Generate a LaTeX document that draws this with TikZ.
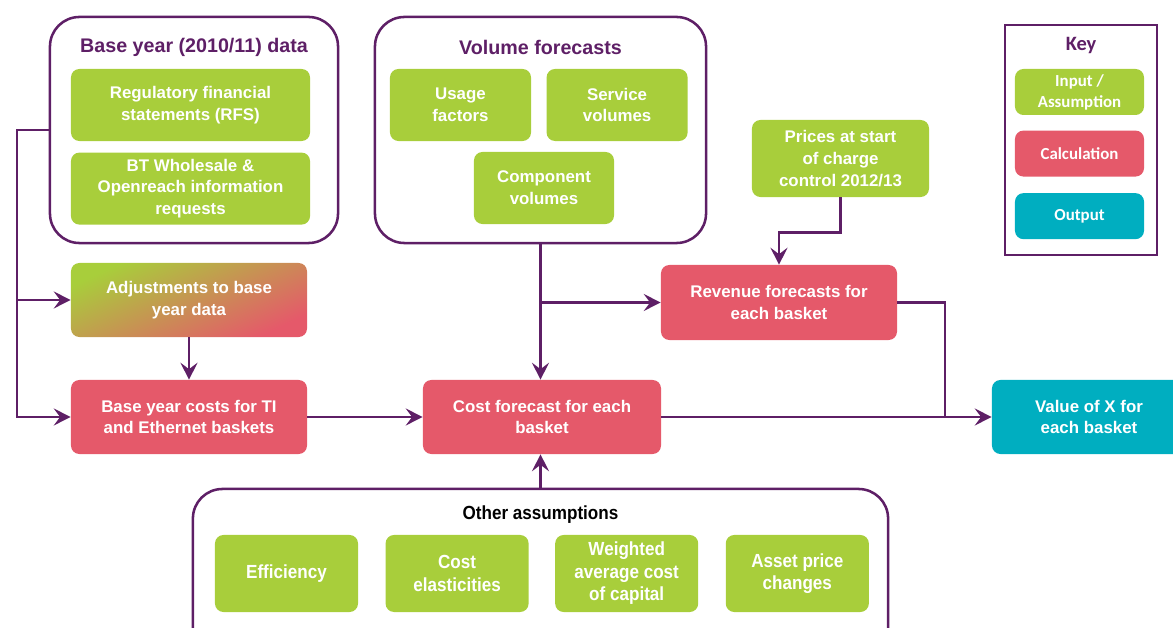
\documentclass[tikz,border=0pt]{standalone}
\usepackage{fontspec}
\setmainfont{Liberation Sans}
\newfontfamily\keyfont{Carlito}
\newfontfamily\narrowfont[FakeStretch=0.9]{Liberation Sans}
\usetikzlibrary{arrows.meta,positioning}
\definecolor{inpgreen}{HTML}{A8CE3B}
\definecolor{calcred}{HTML}{E5596A}
\definecolor{outteal}{HTML}{00AEC0}
\definecolor{plum}{HTML}{5E1F66}
\tikzset{
  blk/.style={rectangle,rounded corners=6pt,align=center,text=white,inner sep=2pt,
    font=\fontsize{12}{15.5}\selectfont\bfseries},
  inpblk/.style={blk,fill=inpgreen},
  calcblk/.style={blk,fill=calcred},
  outblk/.style={blk,fill=outteal},
  adjblk/.style={blk,top color=inpgreen,bottom color=calcred,shading angle=25},
  asmblk/.style={inpblk,font=\narrowfont\fontsize{13.5}{16}\selectfont\bfseries,
    minimum width=3.575cm,minimum height=1.925cm},
  keyblk/.style={rectangle,rounded corners=6pt,align=center,text=white,inner sep=1pt,
    font=\keyfont\fontsize{12}{15}\selectfont\bfseries,minimum width=3.225cm,minimum height=1.15cm},
  grp/.style={draw=plum,line width=1.8pt,rounded corners=21pt},
  ttl/.style={font=\fontsize{14}{16}\selectfont\bfseries,text=plum},
  arr/.style={-{Stealth[length=12pt,width=12pt,inset=4.5pt]},plum,line width=1.8pt},
  lnk/.style={plum,line width=1.8pt}
}

\begin{document}
\begin{tikzpicture}[x=0.025cm,y=-0.025cm]
  \clip (0,0) rectangle (1173,628);

  % base year data
  \node[grp,minimum width=7.2cm,minimum height=5.65cm] (basegrp) at (194,130) {};
  \node[ttl] (basettl) at (194,47) {Base year (2010/11) data};
  \node[inpblk,minimum width=5.975cm,minimum height=1.8cm] (rfs) at (190.5,105) {Regulatory financial\\statements (RFS)};
  \node[inpblk,minimum width=5.975cm,minimum height=1.8cm,below=0.275cm of rfs] (btinfo) {BT Wholesale \&\\Openreach information\\requests};

  % volume forecasts
  \node[grp,minimum width=8.275cm,minimum height=5.65cm] (volgrp) at (540.5,130) {};
  \node[ttl] (volttl) at (540.5,47) {Volume forecasts};
  \node[inpblk,minimum width=3.525cm,minimum height=1.8cm] (usage) at (460.5,105) {Usage\\factors};
  \node[inpblk,minimum width=3.525cm,minimum height=1.8cm,right=0.375cm of usage] (service) {Service\\volumes};
  \node[inpblk,minimum width=3.5cm,minimum height=1.8cm] (compvol) at (544,188) {Component\\volumes};

  \node[inpblk,minimum width=4.425cm,minimum height=1.925cm] (prices) at (840.5,158.5) {Prices at start\\of charge\\control 2012/13};

  % key
  \node[draw=plum,line width=2pt,minimum width=3.8cm,minimum height=5.75cm] (keygrp) at (1081,140) {};
  \node[font=\keyfont\fontsize{14.5}{16}\selectfont\bfseries,text=plum] (keyttl) at (1081,45) {Key};
  \node[keyblk,fill=inpgreen] (keyin) at (1079.5,92) {Input /\\Assumption};
  \node[keyblk,fill=calcred,below=0.375cm of keyin] (keycalc) {Calculation};
  \node[keyblk,fill=outteal,below=0.4cm of keycalc] (keyout) {Output};

  % calculations
  \node[adjblk,minimum width=5.9cm,minimum height=1.85cm] (adj) at (189,300) {Adjustments to base\\year data};
  \node[calcblk,minimum width=5.9cm,minimum height=1.85cm] (basecost) at (189,417) {Base year costs for TI\\and Ethernet baskets};
  \node[calcblk,minimum width=5.95cm,minimum height=1.85cm] (costfc) at (542,417) {Cost forecast for each\\basket};
  \node[calcblk,minimum width=5.9cm,minimum height=1.875cm] (rev) at (779,302.5) {Revenue forecasts for\\each basket};
  \node[outblk,minimum width=4.85cm,minimum height=1.85cm] (valx) at (1089,417) {Value of X for\\each basket};

  % other assumptions
  \node[grp,minimum width=17.375cm,minimum height=4.275cm] (othgrp) at (540.5,574.5) {};
  \node[font=\narrowfont\fontsize{13.5}{16}\selectfont\bfseries] (othttl) at (540.5,515) {Other assumptions};
  \node[asmblk] (effic) at (286.5,573.5) {Efficiency};
  \node[asmblk,right=0.675cm of effic] (costel) {Cost\\elasticities};
  \node[asmblk,right=0.65cm of costel] (wacc) {Weighted\\average cost\\of capital};
  \node[asmblk,right=0.675cm of wacc] (assetpr) {Asset price\\changes};

  % connectors
  \coordinate (lft) at (17,130);
  \draw[arr] (basegrp.west) -- (lft) |- (basecost.west);
  \draw[arr] (lft |- adj.west) -- (adj.west);
  \draw[arr] (adj) -- (basecost);
  \draw[arr] (basecost) -- (costfc);
  \draw[arr] (volgrp.south) -- (volgrp.south |- costfc.north);
  \draw[arr] (volgrp.south |- rev.west) -- (rev.west);
  \draw[arr] (prices.south) -- ++(0,35) -| (rev.north);
  \coordinate (jn) at (945,417);
  \draw[lnk] (rev.east) -| (jn);
  \draw[arr] (costfc) -- (valx);
  \draw[arr] (othgrp.north) -- (othgrp.north |- costfc.south);
\end{tikzpicture}
\end{document}
